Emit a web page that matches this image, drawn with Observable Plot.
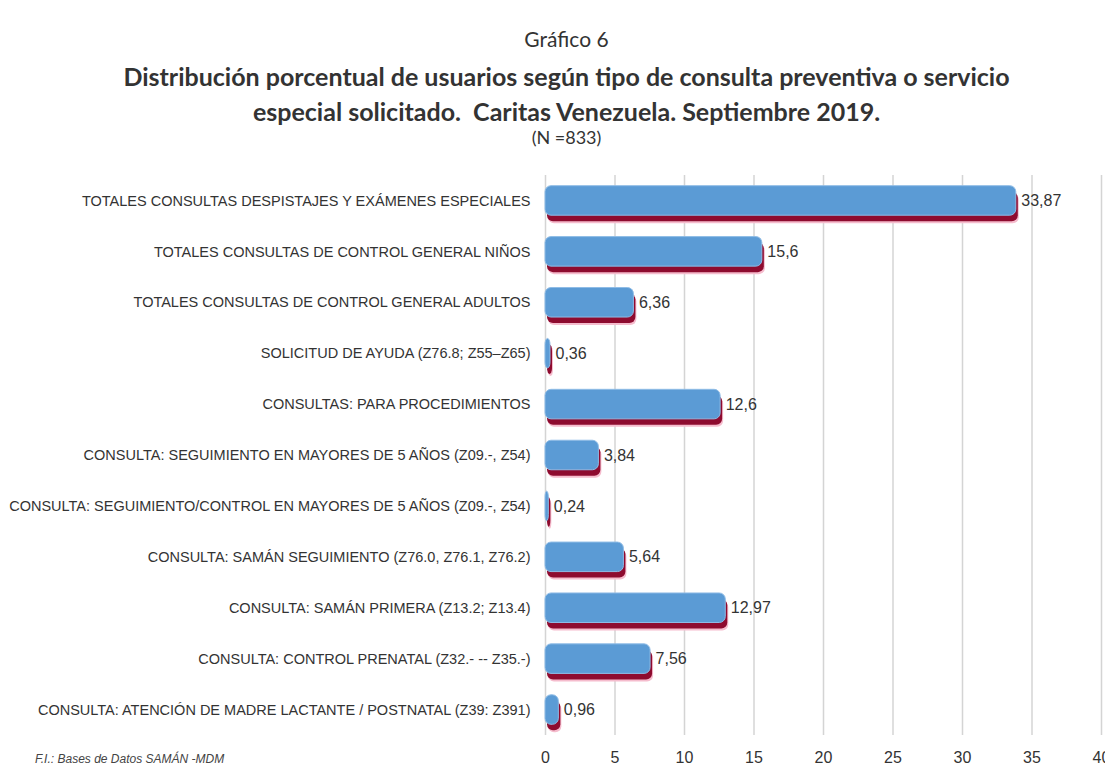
<!DOCTYPE html>
<html><head><meta charset="utf-8">
<script src="https://cdn.jsdelivr.net/npm/d3@7"></script>
<script src="https://cdn.jsdelivr.net/npm/@observablehq/plot@0.6"></script>
<style>
body{margin:0;background:#fff;width:1105px;height:768px;overflow:hidden;position:relative;font-family:"Liberation Sans",sans-serif;color:#333}
#head{height:160px;text-align:center;padding-left:28px;box-sizing:border-box;width:1105px;font-family:Lato,"Liberation Sans",sans-serif}
#g{font-size:21px;padding-top:27px;line-height:24px}
#t{font-size:25px;font-weight:bold;line-height:35px;margin-top:8px;color:#333}
#n{font-size:18px;line-height:22px;margin-top:-3px}
#foot{position:absolute;left:35px;top:752px;font-size:12px;font-style:italic;color:#444}
</style></head><body>
<div id="head"><div id="g">Gráfico 6</div>
<div id="t">Distribución porcentual de usuarios según tipo de consulta preventiva o servicio<br>especial solicitado.&nbsp; Caritas Venezuela. Septiembre 2019.</div>
<div id="n">(N =833)</div></div>
<div id="chart"></div>
<div id="foot">F.I.: Bases de Datos SAMÁN -MDM</div>
<script>
const categories = [
 "TOTALES CONSULTAS DESPISTAJES Y EXÁMENES ESPECIALES",
 "TOTALES CONSULTAS DE CONTROL GENERAL NIÑOS",
 "TOTALES CONSULTAS DE CONTROL GENERAL ADULTOS",
 "SOLICITUD DE AYUDA (Z76.8; Z55–Z65)",
 "CONSULTAS: PARA PROCEDIMIENTOS",
 "CONSULTA: SEGUIMIENTO EN MAYORES DE 5 AÑOS (Z09.-, Z54)",
 "CONSULTA: SEGUIMIENTO/CONTROL EN MAYORES DE 5 AÑOS (Z09.-, Z54)",
 "CONSULTA: SAMÁN SEGUIMIENTO (Z76.0, Z76.1, Z76.2)",
 "CONSULTA: SAMÁN PRIMERA (Z13.2; Z13.4)",
 "CONSULTA: CONTROL PRENATAL (Z32.- -- Z35.-)",
 "CONSULTA: ATENCIÓN DE MADRE LACTANTE / POSTNATAL (Z39: Z391)"
];
const values = [33.87, 15.6, 6.36, 0.36, 12.6, 3.84, 0.24, 5.64, 12.97, 7.56, 0.96];
const valueLabels = ["33,87","15,6","6,36","0,36","12,6","3,84","0,24","5,64","12,97","7,56","0,96"];
const xTicks = [0,5,10,15,20,25,30,35,40];
const data = categories.map((c,i)=>({c, v: values[i], l: valueLabels[i]}));

const chart = Plot.plot({
  width: 1105, height: 608,
  marginLeft: 545, marginRight: 4, marginTop: 15, marginBottom: 33,
  style: {fontFamily: '"Liberation Sans",sans-serif', fontSize: "14px", color: "#333", background: "#fff", overflow: "visible"},
  x: {domain: [0, 40], ticks: xTicks, tickFormat: d=>String(d), label: null},
  y: {domain: categories, paddingInner: 0.42, paddingOuter: 0.21, round: false, label: null},
  marks: [
    Plot.gridX(xTicks, {stroke: "#d4d4d4", strokeOpacity: 1, strokeWidth: 1.5}),
    Plot.axisX({ticks: xTicks, tickSize: 0, tickPadding: 16, fontSize: 16, tickFormat: d=>String(d), label: null, anchor: "bottom"}),
    Plot.axisY({tickSize: 0, tickPadding: 15, fontSize: 14.5, label: null}),
    Plot.barX(data, {y: "c", x: "v", fill: "#f5bccd", rx: 6, dy: 8, dx: 3}),
    Plot.barX(data, {y: "c", x: "v", fill: "#8e0b2f", rx: 6, dy: 6, dx: 2}),
    Plot.barX(data, {y: "c", x: "v", fill: "#5b9bd5", stroke: "#8fbce6", strokeWidth: 1, rx: 6}),
    Plot.text(data, {y: "c", x: "v", text: "l", dx: 5, textAnchor: "start", fontSize: 16, fill: "#333"})
  ]
});
document.getElementById("chart").appendChild(chart);
</script>
</body></html>
